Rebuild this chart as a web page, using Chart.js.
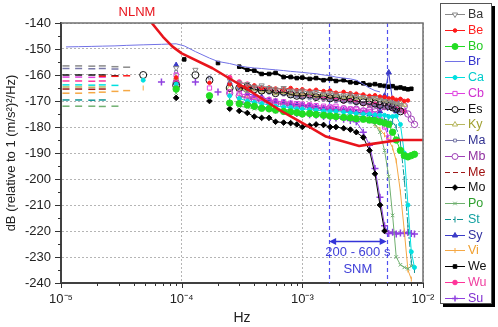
<!DOCTYPE html>
<html><head><meta charset="utf-8">
<script src="https://cdn.jsdelivr.net/npm/chart.js@4.4.1/dist/chart.umd.min.js"></script>
<style>html,body{margin:0;padding:0;background:#fff;overflow:hidden}#wrap{width:498px;height:327px;position:relative}</style>
</head><body><div id="wrap"><canvas id="c" width="498" height="327"></canvas></div>
<script>
const _ = null;
// Frequencies (Hz) shared by all station series
const FREQ = [1.1e-5,1.4e-5,1.8e-5,2.2e-5,2.8e-5,
 3.5e-5,4.8e-5,6.8e-5,9.0e-5,1.05e-4,
 1.3e-4,1.7e-4,2.0e-4,2.5e-4,3.0e-4,
 3.5e-4,4.0e-4,4.6e-4,5.3e-4,6.0e-4,
 7.0e-4,8.0e-4,9.0e-4,1.0e-3,1.15e-3,
 1.3e-3,1.5e-3,1.7e-3,1.9e-3,2.2e-3,
 2.5e-3,2.8e-3,3.2e-3,3.6e-3,4.0e-3,
 4.4e-3,4.8e-3,5.2e-3,5.6e-3,6.0e-3,
 6.5e-3,7.0e-3,7.5e-3,8.0e-3,8.5e-3];

const Ba = [-156.5,-156.5,-156.6,-156.5,-156.8, -157.0,_,_,-157.3,_, -158.0,_,_,-162.0,-163.0,
 -163.5,-164.5,-164.0,-165.0,-165.5, -165.0,-166.0,-166.3,-166.0,-166.8, -166.5,-167.2,-167.0,-167.5,-167.8,
 -167.5,-168.2,-168.5,-169.0,-168.8, -169.5,-170.0,-170.2,-170.8,-171.0, -171.5,_,_,_,_];
const Be = [_,_,_,-160.5,-160.5, -160.3,_,_,-161.0,_, _,-163.0,_,-163.5,-164.0,
 -164.5,-164.0,-165.0,-164.8,-165.2, -165.5,-165.0,-165.8,-165.5,-166.0, -165.7,-166.2,-166.0,-166.8,-166.5,
 -167.0,-167.2,-167.5,-168.0,-167.8, -168.3,-168.5,-169.0,-168.8,-169.5, -169.2,-170.0,-169.8,_,_];
const Bo = [_,_,_,_,_, _,_,_,-165.4,_, _,-168.0,_,-170.8,-171.0,
 -171.5,-172.0,-172.8,-173.0,-173.5, -174.0,-174.2,-174.5,-175.0,-174.8, -175.2,-175.5,-175.8,-176.0,-176.3,
 -176.5,-176.8,-177.0,-177.3,-177.5, -178.0,-178.5,-179.0,-182.0,-185.0, -189.0,-191.0,-191.5,-191.0,-190.5];
const Br = [-149.2,-149.1,-149.0,-148.9,-148.8, -148.6,-148.4,-148.2,-148.0,-148.8, -151.0,-153.5,-154.8,-155.6,-156.5,
 -157.0,-157.3,-157.5,-157.8,-158.0, -158.3,-158.6,-158.8,-159.0,-159.3, -159.5,-160.0,-160.3,-160.8,-161.2,
 -161.5,-162.0,-163.5,-165.0,-166.0, -166.5,_,_,_,_, _,_,_,_,_];
const Ca = [-163.8,-163.8,-163.9,-163.8,-164.0, _,-162.0,_,-163.5,_, _,_,_,-168.0,-169.0,
 -170.0,-170.5,-171.0,-171.5,-172.0, -172.3,-172.5,-173.0,-173.0,-173.3, -173.5,-173.8,-174.0,-174.0,-174.3,
 -174.5,-174.8,-175.0,-175.0,-175.3, -175.5,-175.5,-176.0,-176.0,-175.8, -179.0,-190.0,-210.0,-228.0,-234.0];
const Cb = [-160.8,-160.8,-160.9,-160.8,_, _,_,_,-160.0,_, _,-165.0,_,-166.5,-167.0,
 -168.0,-168.5,-169.0,-169.5,-170.0, -170.3,-170.8,-171.0,-171.2,-171.5, -171.8,-172.0,-172.3,-172.0,-172.8,
 -173.0,-173.2,-173.8,-174.0,-175.0, -177.0,-180.0,-184.0,_,_, _,_,_,_,_];
const Es = [-160.0,-160.0,-160.0,-160.0,-160.3, _,-160.0,_,-164.0,_, -160.0,-162.0,_,-165.0,-165.0,
 -164.5,-165.5,-166.0,-165.8,-167.0, -166.5,-167.5,-168.0,-168.0,-167.5, -168.5,-168.0,-169.0,-168.5,-169.5,
 -169.0,-170.0,-170.5,-170.0,-171.0, -171.5,-170.5,-172.0,-172.5,-173.0, -174.0,_,_,_,_];
const Ky = [-164.6,-164.6,-164.7,-164.6,_, _,_,_,-161.0,_, _,_,_,-165.0,-165.5,
 -166.0,-165.5,-166.5,-166.0,-167.0, -166.5,-167.2,-167.0,-167.5,-167.0, -168.0,-167.5,-168.2,-167.8,-168.5,
 -168.0,-168.8,-168.5,-169.0,-169.3, -169.0,-169.8,-170.0,-170.3,-170.8, -171.0,-171.5,_,_,_];
const Ma = [-157.5,-157.5,-157.6,-157.5,-157.7, _,_,_,-158.8,_, _,-161.0,_,-163.0,-164.0,
 -165.0,-165.5,-166.0,-166.8,-167.0, -167.5,-168.0,-168.2,-168.5,-169.0, -168.8,-169.5,-169.3,-170.0,-170.2,
 -170.5,-171.0,-170.8,-171.5,-171.8, -172.0,-172.5,-172.3,-173.0,-173.5, -174.0,_,_,_,_];
const Mb = [_,_,_,_,_, _,_,_,-163.0,_, _,_,_,-167.0,-168.0,
 -169.0,-169.5,-170.0,-170.5,-171.0, -171.3,-171.8,-172.0,-172.3,-172.0, -172.8,-173.0,-172.7,-173.3,-173.0,
 -173.5,-173.2,-173.8,-173.5,-173.0, -172.5,-172.0,-171.5,-171.0,-170.5, -170.0,-172.0,-175.0,-177.0,-179.0];
const Me = [-165.4,-165.4,-165.5,-165.4,_, _,_,_,_,_, _,_,_,-164.0,-165.0,
 -165.5,-166.0,-165.8,-166.5,-166.2, -167.0,-166.8,-167.3,-167.0,-167.5, -167.3,-168.0,-167.6,-168.2,-168.0,
 -168.7,-168.5,-169.0,-169.3,-169.5, -170.0,-170.2,-170.5,-171.0,-171.3, -171.8,-172.0,_,_,_];
const Mo = [_,_,_,_,_, _,_,_,-168.8,_, _,-170.0,_,-173.0,-173.8,
 -174.6,-176.0,-176.5,-176.5,-178.0, -178.3,-178.5,-179.0,-180.0,-179.5, -179.0,-179.2,-180.0,-180.0,-180.5,
 -181.0,-182.0,-184.0,-189.0,-198.0, -210.0,-220.0,_,_,_, _,_,_,_,_];
const Po = [-172.0,-172.0,-172.0,-172.1,-172.0, _,_,_,-167.0,_, _,_,_,-171.0,-172.0,
 -172.5,-173.0,-173.2,-173.5,-174.0, -174.2,-174.5,-174.8,-175.0,-175.2, -175.5,-175.3,-175.8,-176.0,-176.3,
 -176.5,-177.0,-177.5,-178.0,-179.0, -182.0,-189.0,-199.0,-214.0,-230.0, -233.0,-234.0,-234.5,-233.5,_];
const St = [-169.6,-169.6,-169.7,-169.6,_, _,_,_,_,_, _,_,_,-170.0,-171.0,
 -171.5,-172.0,-172.3,-172.8,-173.0, -173.3,-173.5,-173.8,-174.0,-174.2, -174.5,-174.5,-174.8,-175.0,-175.2,
 -175.5,-175.8,-176.0,-176.2,-176.5, -176.8,-177.0,-177.5,-178.0,-180.0, -186.0,-200.0,-218.0,-232.0,-235.0];
const Sy = [_,_,_,_,_, _,_,_,-156.2,_, _,_,_,-163.0,-165.0,
 -167.0,-168.0,-168.5,-169.5,-170.0, -170.5,-171.0,-171.3,-171.5,-172.0, -172.3,-172.8,-173.0,-173.3,-173.5,
 -174.0,-174.3,-174.5,-175.0,-175.5, -174.0,-168.0,-159.0,-170.0,-174.0, _,_,_,_,_];
const Vi = [-167.0,-167.0,-166.8,-166.6,-166.3, -166.0,-165.0,_,_,_, _,_,_,-167.0,-168.0,
 -168.5,-169.0,-169.5,-170.0,-170.5, -171.0,-171.2,-171.5,-172.0,-172.3, -172.5,-173.0,-173.3,-173.5,-174.0,
 -174.3,-174.8,-175.5,-177.0,-179.0, -181.0,-183.0,-185.0,-188.0,-193.0, -205.0,-220.0,-235.0,-238.5,_];
const We = [_,_,_,_,_, _,_,_,_,-154.0, _,_,-155.4,_,-156.8,
 -158.0,-158.3,-159.6,-159.6,-159.2, -160.8,-160.8,-161.2,-161.0,-161.5, -161.2,-162.0,-161.5,-162.3,-162.0,
 -162.8,-163.0,-163.2,-163.8,-163.5, -164.0,-164.2,-164.5,-164.3,-165.0, -164.8,-165.2,-165.5,-165.3,_];
const Wu = [-162.3,-162.3,-162.4,-162.3,_, _,_,_,-162.0,_, _,_,_,-161.0,-162.7,
 -163.5,-164.5,-165.0,-165.5,-166.5, -166.0,-167.0,-167.5,-168.0,-167.5, -168.5,-169.0,-168.8,-169.5,-170.0,
 -169.8,-170.5,-171.0,-171.5,-171.2, -172.0,-172.5,-172.0,-172.8,-173.0, -173.5,-174.0,_,_,_];
const Su = [_,_,_,_,_, _,_,-162.7,_,_, -162.7,_,-166.5,_,-170.4,
 -171.0,-172.0,-172.5,-173.0,-173.5, -174.0,-174.3,-174.8,-175.0,-175.3, -175.5,-176.0,-176.3,-176.5,-177.0,
 -177.5,-178.0,-182.0,-187.0,-196.0, -207.0,-218.0,-221.0,-220.5,-221.2, -220.8,-221.0,-220.6,-221.0,-221.2];

// Peterson New Low Noise Model
const NLNM_F  = [5.65e-5,7.0e-5,8.4e-5,1.0e-4,1.8e-4,3.4e-4,6.5e-4,1.2e-3,1.57e-3,2.96e-3,3.8e-3,6.3e-3,1.0e-2];
const NLNM_DB = [-140,-145.3,-149.1,-151.7,-157.4,-165.1,-173.5,-180.5,-183.7,-187.3,-186.5,-185,-185];

const SERIES_NAMES = ['Ba','Be','Bo','Br','Ca','Cb','Es','Ky','Ma','Mb','Me','Mo','Po','St','Sy','Vi','We','Wu','Su'];
const SERIES_VALUES = {Ba,Be,Bo,Br,Ca,Cb,Es,Ky,Ma,Mb,Me,Mo,Po,St,Sy,Vi,We,Wu,Su};

const X_TICKS = [1e-5,1e-4,1e-3,1e-2];
const X_TICK_LABELS = ['10\u207B\u2075','10\u207B\u2074','10\u207B\u00B3','10\u207B\u00B2'];
const SNM_PERIODS = [600,200];
const SNM_ARROW_DB = -224;
const SNM_TEXT = ['200 - 600 s','SNM'];
const NLNM_LABEL = 'NLNM';
const Y_TITLE = 'dB (relative to 1 (m/s\u00B2)\u00B2/Hz)';
const X_TITLE = 'Hz';

const STYLES = {
 Ba:{color:'#8a8a8a',text:'#333333',ps:'triangle',rot:180,r:3},
 Be:{color:'#ff1a1a',text:'#ff2020',ps:'circle',r:1.8,fill:true},
 Bo:{color:'#22dd22',text:'#22cc22',ps:'circle',r:3.2,fill:true},
 Br:{color:'#7272e6',text:'#3333cc',ps:'circle',r:0,line:true},
 Ca:{color:'#00e0e0',text:'#00cccc',ps:'circle',r:2,fill:true},
 Cb:{color:'#e040e0',text:'#d030d0',ps:'rect',r:3},
 Es:{color:'#111111',text:'#111111',ps:'circle',r:3.5},
 Ky:{color:'#b8b860',text:'#a0a030',ps:'triangle',r:3},
 Ma:{color:'#7878a8',text:'#303090',ps:'rect',r:2},
 Mb:{color:'#a040b8',text:'#9030a0',ps:'circle',r:3.2},
 Me:{color:'#a01818',text:'#a01010',ps:'circle',r:0,dash:[5,3]},
 Mo:{color:'#000000',text:'#111111',ps:'rectRot',r:2.8,fill:true},
 Po:{color:'#70b070',text:'#30a030',ps:'crossRot',r:2.5},
 St:{color:'#109494',text:'#10a0a0',ps:'line',rot:90,r:3,dash:[6,2,2,2]},
 Sy:{color:'#3c3cc8',text:'#3030a0',ps:'triangle',r:3,fill:true},
 Vi:{color:'#f5a845',text:'#f0a030',ps:'line',rot:90,r:2.5},
 We:{color:'#000000',text:'#111111',ps:'rect',r:2.5,fill:true,lw:2},
 Wu:{color:'#ff3399',text:'#f040a0',ps:'circle',r:2.3,fill:true},
 Su:{color:'#9040e0',text:'#8030d0',ps:'cross',r:3.5,bw:1.5}
};

const LOW = 4e-5, DENSE = 2.9e-4;
const isLow = c => c.raw && c.raw.x < LOW;

const datasets = [];
datasets.push({
  label: NLNM_LABEL,
  data: NLNM_F.map((f,i)=>({x:f,y:NLNM_DB[i]})),
  borderColor:'#e8141c', borderWidth:2.6, pointRadius:0, tension:0, borderJoinStyle:'round',
  order:-1
});
SERIES_NAMES.forEach((name,k)=>{
  const st = STYLES[name];
  const vals = SERIES_VALUES[name];
  const pts = FREQ.map((f,i)=>({x:f,y:vals[i]})).filter(p=>p.y!==null);
  datasets.push({
    label:name,
    data:pts,
    borderColor:st.color,
    borderWidth: st.lw || 1,
    borderDash: st.dash || [],
    spanGaps:true,
    order:k,
    segment: st.line ? {} : { borderColor: c => c.p0.parsed.x < DENSE ? 'rgba(0,0,0,0)' : undefined },
    pointStyle: c => isLow(c) ? 'line' : st.ps,
    pointRadius: c => st.line ? 0 : (isLow(c) ? 3.5 : st.r),
    pointRotation: c => isLow(c) ? 0 : (st.rot||0),
    pointBorderColor: st.color,
    pointBackgroundColor: st.fill ? st.color : 'rgba(0,0,0,0)',
    pointBorderWidth: c => isLow(c) ? 1.5 : (st.bw||1),
    pointHoverRadius:0
  });
});

const decor = {
  id:'decor',
  beforeDatasetsDraw(chart){
    const {ctx, scales:{x,y}, chartArea:a} = chart;
    ctx.save();
    ctx.strokeStyle='rgb(80,80,240)'; ctx.lineWidth=1.2; ctx.setLineDash([4,3]);
    SNM_PERIODS.forEach(p=>{
      const px = Math.round(x.getPixelForValue(1/p))+0.5;
      ctx.beginPath(); ctx.moveTo(px,a.top); ctx.lineTo(px,a.bottom); ctx.stroke();
    });
    ctx.restore();
  },
  afterDatasetsDraw(chart){
    const {ctx, scales:{x,y}, chartArea:a} = chart;
    ctx.save();
    const x1 = x.getPixelForValue(1/SNM_PERIODS[0]), x2 = x.getPixelForValue(1/SNM_PERIODS[1]);
    const ay = Math.round(y.getPixelForValue(SNM_ARROW_DB))+0.5;
    ctx.strokeStyle='#3434d8'; ctx.fillStyle='#3434d8'; ctx.lineWidth=1.5;
    ctx.beginPath(); ctx.moveTo(x1+4,ay); ctx.lineTo(x2-4,ay); ctx.stroke();
    ctx.beginPath(); ctx.moveTo(x1,ay); ctx.lineTo(x1+7,ay-3.5); ctx.lineTo(x1+7,ay+3.5); ctx.closePath(); ctx.fill();
    ctx.beginPath(); ctx.moveTo(x2,ay); ctx.lineTo(x2-7,ay-3.5); ctx.lineTo(x2-7,ay+3.5); ctx.closePath(); ctx.fill();
    ctx.font='13px "Liberation Sans", Arial, sans-serif';
    ctx.fillStyle='#4040d8'; ctx.textAlign='center'; ctx.textBaseline='middle';
    const cx = (x1+x2)/2;
    ctx.fillText(SNM_TEXT[0], cx, ay+11);
    ctx.fillText(SNM_TEXT[1], cx, ay+28);
    ctx.restore();
  },
  afterDraw(chart){
    const {ctx, scales:{x,y}, chartArea:a} = chart;
    ctx.save();
    ctx.strokeStyle='#707070'; ctx.lineWidth=1.5;
    ctx.beginPath(); ctx.moveTo(a.left,a.top); ctx.lineTo(a.right,a.top); ctx.lineTo(a.right,a.bottom); ctx.stroke();
    ctx.strokeStyle='#333'; ctx.lineWidth=1;
    for (let v=y.min; v<=y.max; v+=5){
      const py = Math.round(y.getPixelForValue(v))+0.5;
      const len = (v%10===0)?6:3;
      ctx.beginPath(); ctx.moveTo(a.left-len,py); ctx.lineTo(a.left,py); ctx.stroke();
    }
    X_TICKS.forEach((d,di)=>{
      const ks = di<X_TICKS.length-1 ? [1,2,3,4,5,6,7,8,9] : [1];
      ks.forEach(k=>{
        const px = Math.round(x.getPixelForValue(k*d))+0.5;
        const len = k===1?5:3;
        ctx.beginPath(); ctx.moveTo(px,a.bottom); ctx.lineTo(px,a.bottom+len); ctx.stroke();
      });
    });
    ctx.font='13px "Liberation Sans", Arial, sans-serif';
    ctx.fillStyle='#e8141c'; ctx.textAlign='center'; ctx.textBaseline='middle';
    ctx.fillText(NLNM_LABEL, 137, 12);
    const lx=440, ly=3, lw=51, lh=300;
    ctx.fillStyle='#000'; ctx.fillRect(lx+3,ly+3,lw+1,lh+1);
    ctx.fillStyle='#fff'; ctx.fillRect(lx,ly,lw,lh);
    ctx.strokeStyle='#555'; ctx.lineWidth=1; ctx.strokeRect(lx+0.5,ly+0.5,lw,lh);
    ctx.font='12.5px "Liberation Sans", Arial, sans-serif';
    ctx.textAlign='left'; ctx.textBaseline='middle';
    SERIES_NAMES.forEach((name,i)=>{
      const st = STYLES[name];
      const yy = Math.round(14 + i*15.75)+0.5;
      ctx.strokeStyle=st.color; ctx.lineWidth=1; ctx.setLineDash(st.dash||[]);
      ctx.beginPath(); ctx.moveTo(445,yy); ctx.lineTo(465,yy); ctx.stroke();
      ctx.setLineDash([]);
      if (st.r>0 && Chart.helpers && Chart.helpers.drawPoint){
        ctx.fillStyle = st.fill ? st.color : '#fff';
        ctx.strokeStyle = st.color;
        ctx.lineWidth = st.bw||1;
        Chart.helpers.drawPoint(ctx,{pointStyle:st.ps,rotation:st.rot||0,radius:Math.min(st.r,3),borderWidth:st.bw||1},455,yy);
      }
      ctx.fillStyle=st.text;
      ctx.fillText(name, 468, yy);
    });
    ctx.restore();
  }
};

new Chart(document.getElementById('c'), {
  type:'line',
  data:{datasets},
  options:{
    responsive:false, animation:false, devicePixelRatio:1, events:[],
    layout:{padding:{left:0,right:75,top:23,bottom:0}},
    plugins:{legend:{display:false}, tooltip:{enabled:false}},
    scales:{
      x:{
        type:'logarithmic', min:1e-5, max:1e-2,
        afterBuildTicks: s => { s.ticks = X_TICKS.map(v=>({value:v})); },
        afterFit: s => { s.height = 44; },
        ticks:{ autoSkip:false, maxRotation:0, padding:9, color:'#222',
          font:{family:'"Liberation Sans", Arial, sans-serif', size:13},
          callback: v => { const i = X_TICKS.findIndex(t=>Math.abs(Math.log10(t)-Math.log10(v))<1e-6); return i>=0 ? X_TICK_LABELS[i] : ''; } },
        grid:{color:'#b5b5b5', lineWidth:1, drawTicks:false},
        border:{display:true, color:'#404040', width:2, dash:[2,2]},
        title:{display:true, text:X_TITLE, color:'#222', padding:{top:0,bottom:0},
          font:{family:'"Liberation Sans", Arial, sans-serif', size:14}}
      },
      y:{
        min:-240, max:-140,
        afterFit: s => { s.width = 61; },
        ticks:{ stepSize:10, padding:10, color:'#222',
          font:{family:'"Liberation Sans", Arial, sans-serif', size:13} },
        grid:{color:'#b5b5b5', lineWidth:1, drawTicks:false},
        border:{display:true, color:'#404040', width:2, dash:[2,2]},
        title:{display:true, text:Y_TITLE, color:'#222', padding:{top:4,bottom:4},
          font:{family:'"Liberation Sans", Arial, sans-serif', size:13}}
      }
    }
  },
  plugins:[decor]
});
</script>
</body></html>
